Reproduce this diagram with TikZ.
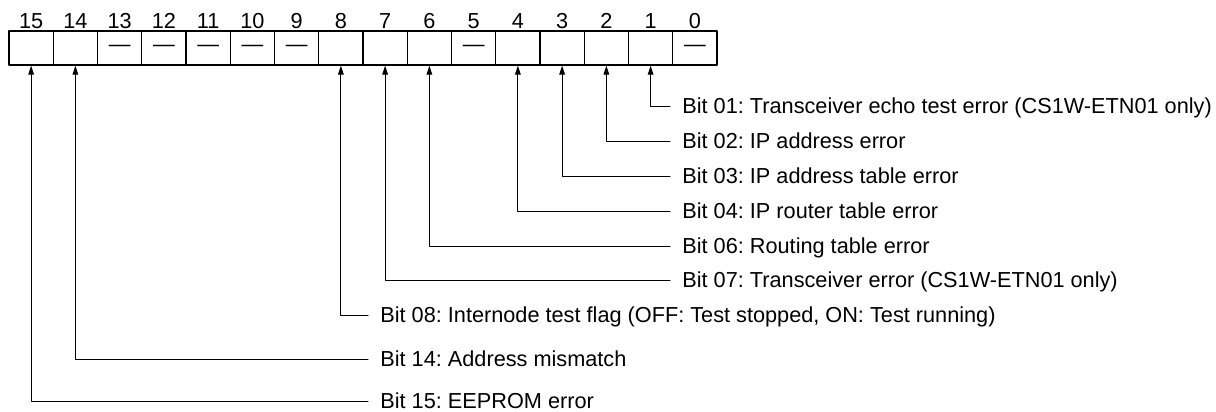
\documentclass[tikz,border=0pt]{standalone}
\usepackage{fontspec}
\setmainfont{Liberation Sans}
\usetikzlibrary{arrows.meta}
\frenchspacing
\tikzset{
  every picture/.style={line join=round, line cap=round},
  bitcell/.style={draw, line width=0.6pt, minimum width=22.125pt,
    minimum height=17pt, inner sep=0pt},
  bitnum/.style={inner sep=0pt, text height=7.7pt, text depth=0pt},
  bitlabel/.style={anchor=west, inner sep=0pt, text height=7.7pt, text depth=0pt},
  bitline/.style={->, line width=0.5pt, shorten <=6pt},
}
\begin{document}
\begin{tikzpicture}[x=0.5pt,y=-0.5pt,>={Triangle[length=4.5pt,width=2.8pt]},
  font=\fontsize{10.85}{13}\selectfont]
\useasboundingbox (0,0) rectangle (1216,412);
% status word, bit 15 on the left
\foreach \b in {0,...,15}{
  \node[bitcell] (c\b) at ({31.125+44.25*(15-\b)},48) {};
  \node[bitnum] (n\b) at ({31.125+44.25*(15-\b)},21) {\b};
}
% unused bits
\foreach \b in {0,5,9,10,11,12,13}
  \node[inner sep=0pt] (d\b) at (c\b) {—};
% meanings
\node[bitlabel] (l1) at (682,106) {Bit 01: Transceiver echo test error (CS1W-ETN01 only)};
\node[bitlabel] (l2) at (682,141) {Bit 02: IP address error};
\node[bitlabel] (l3) at (682,176) {Bit 03: IP address table error};
\node[bitlabel] (l4) at (682,211) {Bit 04: IP router table error};
\node[bitlabel] (l6) at (682,246) {Bit 06: Routing table error};
\node[bitlabel] (l7) at (682,280) {Bit 07: Transceiver error (CS1W-ETN01 only)};
\node[bitlabel] (l8) at (380,315) {Bit 08: Internode test flag (OFF: Test stopped, ON: Test running)};
\node[bitlabel] (l14) at (380,359) {Bit 14: Address mismatch};
\node[bitlabel] (l15) at (380,401) {Bit 15: EEPROM error};
\draw[bitline] (l1.west) -| (c1.south);
\draw[bitline] (l2.west) -| (c2.south);
\draw[bitline] (l3.west) -| (c3.south);
\draw[bitline] (l4.west) -| (c4.south);
\draw[bitline] (l6.west) -| (c6.south);
\draw[bitline] (l7.west) -| (c7.south);
\draw[bitline] (l8.west) -| (c8.south);
\draw[bitline] (l14.west) -| (c14.south);
\draw[bitline] (l15.west) -| (c15.south);
\end{tikzpicture}
\end{document}
